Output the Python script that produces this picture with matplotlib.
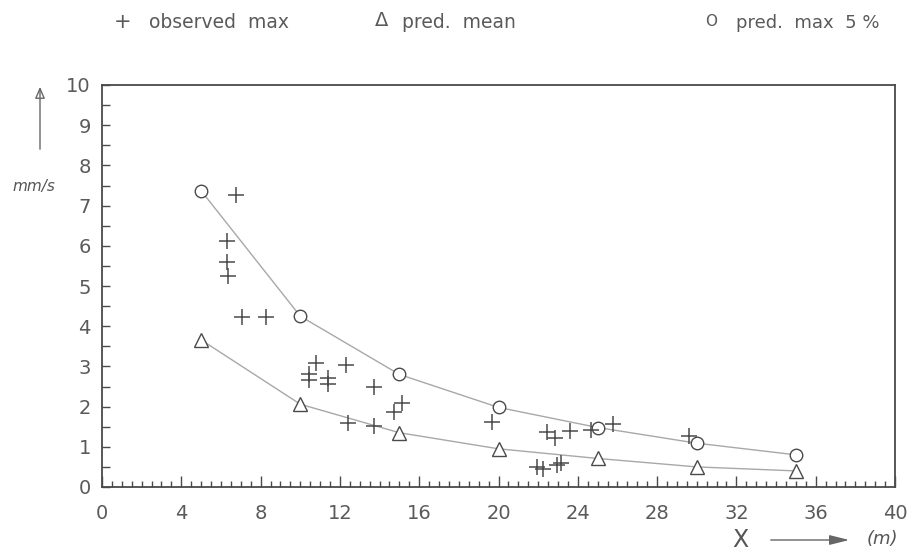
import matplotlib
matplotlib.use("Agg")
import matplotlib.pyplot as plt
from matplotlib.ticker import MultipleLocator

# ---- data ----
obs_x = [6.77, 6.30, 6.30, 6.35, 7.06, 8.28,
         10.79, 10.45, 10.45, 11.4, 11.4, 12.31, 13.7, 15.14, 14.75, 12.39, 13.7,
         19.68, 22.46, 22.84, 23.6, 24.65, 25.8, 29.6,
         21.95, 22.25, 22.96, 23.16]
obs_y = [7.26, 6.12, 5.60, 5.25, 4.22, 4.24,
         3.08, 2.80, 2.66, 2.71, 2.56, 3.03, 2.50, 2.10, 1.87, 1.58, 1.52,
         1.62, 1.38, 1.23, 1.40, 1.42, 1.56, 1.27,
         0.49, 0.44, 0.55, 0.60]
pred_x = [5, 10, 15, 20, 25, 30, 35]
pred_mean = [3.66, 2.06, 1.35, 0.95, 0.71, 0.50, 0.40]
pred_max5 = [7.37, 4.25, 2.80, 1.98, 1.48, 1.09, 0.80]
x_ticks = [0, 4, 8, 12, 16, 20, 24, 28, 32, 36, 40]
y_ticks = [0, 1, 2, 3, 4, 5, 6, 7, 8, 9, 10]
legend_labels = ["observed  max", "pred.  mean", "pred.  max  5 %"]

W, H = 916, 557
fig = plt.figure(figsize=(W / 100, H / 100), dpi=100)
ax = fig.add_axes([102 / W, 1 - 487 / H, (895 - 102) / W, (487 - 85) / H])

ink = "#4a4a4a"
txt = "#5a5a5a"
linec = "#a8a8a8"

ax.plot(pred_x, pred_max5, color=linec, lw=1.0, zorder=1)
ax.plot(pred_x, pred_mean, color=linec, lw=1.0, zorder=1)
ax.plot(pred_x, pred_max5, linestyle="none", marker="o", ms=9, mfc="white",
        mec=ink, mew=1.0, zorder=3)
ax.plot(pred_x, pred_mean, linestyle="none", marker="^", ms=10, mfc="white",
        mec=ink, mew=1.0, zorder=3)
ax.plot(obs_x, obs_y, linestyle="none", marker="+", ms=12, mec=ink, mew=1.1,
        zorder=4)

ax.set_xlim(0, 40)
ax.set_ylim(0, 10)
ax.set_xticks(x_ticks)
ax.set_yticks(y_ticks)
ax.xaxis.set_minor_locator(MultipleLocator(0.5))
ax.yaxis.set_minor_locator(MultipleLocator(0.5))
ax.tick_params(axis="x", which="major", direction="in", length=8, width=1,
               color=ink, pad=12, labelsize=14, labelcolor=txt)
ax.tick_params(axis="x", which="minor", direction="in", length=4.5, width=1,
               color=ink)
ax.tick_params(axis="y", which="major", direction="in", length=6, width=1,
               color=ink, pad=8, labelsize=14, labelcolor=txt)
ax.tick_params(axis="y", which="minor", direction="in", length=6, width=1,
               color=ink)
ax.tick_params(top=False, right=False)
for s in ax.spines.values():
    s.set_color(ink)
    s.set_linewidth(1.3)

def fx(p):
    return p / W

def fy(p):
    return 1 - p / H

# legend as text row at top
fig.text(fx(123), fy(22), "+", ha="center", va="center", fontsize=15, color=txt)
fig.text(fx(149), fy(23), legend_labels[0], ha="left", va="center", fontsize=13.5, color=txt)
fig.text(fx(382), fy(21), "Δ", ha="center", va="center", fontsize=14, color=txt)
fig.text(fx(402), fy(23), legend_labels[1], ha="left", va="center", fontsize=13.5, color=txt)
fig.text(fx(711), fy(21), "O", ha="center", va="center", fontsize=11, color=txt)
fig.text(fx(736), fy(23), legend_labels[2], ha="left", va="center", fontsize=13, color=txt)

# y axis label with arrow
fig.add_artist(matplotlib.patches.FancyArrowPatch(
    (fx(40), fy(152)), (fx(40), fy(84)), transform=fig.transFigure,
    arrowstyle="-|>,head_length=7,head_width=3", color="#666666", lw=1.0,
    mutation_scale=1, fill=False))
fig.text(fx(34), fy(186), "mm/s", ha="center", va="center", fontsize=11,
         color="#555555", style="italic")

# x axis label with arrow
fig.text(fx(740), fy(540), "X", ha="center", va="center", fontsize=17,
         color="#555555")
fig.add_artist(matplotlib.patches.FancyArrowPatch(
    (fx(768), fy(540)), (fx(852), fy(540)), transform=fig.transFigure,
    arrowstyle="-|>,head_length=12,head_width=3", color="#666666", lw=1.0,
    mutation_scale=1))
fig.text(fx(882), fy(539), "(m)", ha="center", va="center", fontsize=13,
         color="#555555", style="italic")

fig.savefig("out.png", dpi=100)
